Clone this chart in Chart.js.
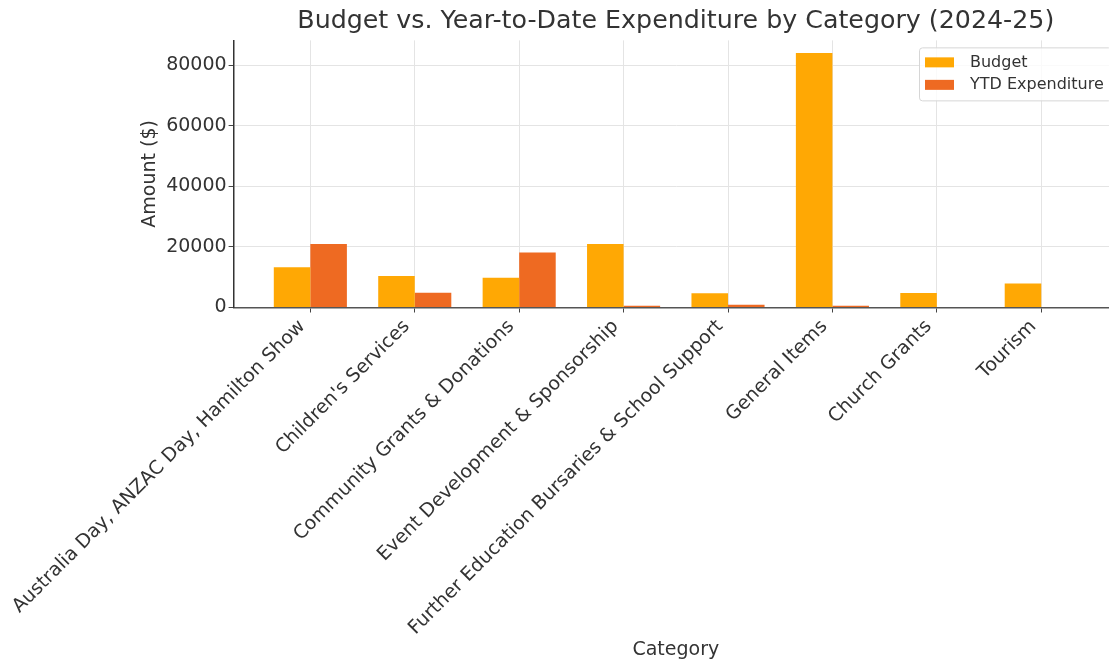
<!DOCTYPE html>
<html>
<head>
<meta charset="utf-8">
<script src="https://cdn.jsdelivr.net/npm/chart.js@4.4.1/dist/chart.umd.min.js"></script>
<style>
  html, body { margin: 0; padding: 0; background: #ffffff; overflow: hidden; }
  #wrap { width: 1109px; height: 666px; overflow: hidden; }
  canvas { display: block; }
</style>
</head>
<body>
<div id="wrap"><canvas id="c" width="1118" height="666"></canvas></div>
<script>
const categories = [
  "Australia Day, ANZAC Day, Hamilton Show",
  "Children's Services",
  "Community Grants & Donations",
  "Event Development & Sponsorship",
  "Further Education Bursaries & School Support",
  "General Items",
  "Church Grants",
  "Tourism"
];
const budget = [13300, 10400, 9800, 21000, 4700, 84000, 4800, 7900];
const ytdExpenditure = [21000, 4900, 18200, 600, 900, 600, 0, 0];
const yTicks = [0, 20000, 40000, 60000, 80000];
const seriesNames = ["Budget", "YTD Expenditure"];
const seriesColors = ["#FFA804", "#EE6A22"];

const FONT = "'DejaVu Sans', 'Liberation Sans', sans-serif";
const TEXT = "#333333";
const GRID = "#e4e4e4";

const yMax = Math.max(...budget, ...ytdExpenditure) * 1.05;
const xMin = -0.35 - 0.05 * (categories.length - 1 + 0.7);
const xMax = categories.length - 1 + 0.35 + 0.05 * (categories.length - 1 + 0.7);

const legendBox = {
  id: 'legendBox',
  afterDraw(chart) {
    const ctx = chart.ctx, a = chart.chartArea;
    const w = 192, h = 53;
    const x = a.right - 7 - w, y = a.top + 7;
    ctx.save();
    ctx.beginPath();
    if (ctx.roundRect) ctx.roundRect(x + 0.5, y + 0.5, w, h, 3); else ctx.rect(x + 0.5, y + 0.5, w, h);
    ctx.fillStyle = 'rgba(255,255,255,0.8)';
    ctx.fill();
    ctx.strokeStyle = '#d6d6d6';
    ctx.lineWidth = 1;
    ctx.stroke();
    ctx.font = "16px " + FONT;
    ctx.textBaseline = 'middle';
    ctx.textAlign = 'left';
    chart.data.datasets.forEach((ds, i) => {
      const cy = y + 15 + i * 22.5;
      ctx.fillStyle = ds.backgroundColor;
      ctx.fillRect(x + 6, cy - 5, 29, 10);
      ctx.fillStyle = TEXT;
      ctx.fillText(ds.label, x + 51, cy);
    });
    ctx.restore();
  }
};

new Chart(document.getElementById('c'), {
  type: 'bar',
  data: {
    datasets: [
      { label: seriesNames[0], data: budget.map((v, i) => ({ x: i, y: v })), backgroundColor: seriesColors[0],
        categoryPercentage: 0.7, barPercentage: 1.0, borderWidth: 0 },
      { label: seriesNames[1], data: ytdExpenditure.map((v, i) => ({ x: i, y: v })), backgroundColor: seriesColors[1],
        categoryPercentage: 0.7, barPercentage: 1.0, borderWidth: 0 }
    ]
  },
  options: {
    responsive: false,
    animation: false,
    devicePixelRatio: 1,
    layout: { padding: 0 },
    plugins: {
      legend: { display: false },
      tooltip: { enabled: false },
      title: {
        display: true,
        fullSize: false,
        text: "Budget vs. Year-to-Date Expenditure by Category (2024-25)",
        color: TEXT,
        font: { family: FONT, size: 25.3, weight: 'normal' },
        padding: { top: 6.5, bottom: 3.5 }
      }
    },
    scales: {
      x: {
        type: 'linear',
        min: xMin,
        max: xMax,
        offset: false,
        afterBuildTicks: (s) => { s.ticks = categories.map((c, i) => ({ value: i })); },
        afterFit: (s) => { s.height = 358.5; },
        ticks: {
          callback: (v) => categories[v],
          autoSkip: false,
          maxRotation: 45,
          minRotation: 45,
          color: TEXT,
          padding: 3,
          labelOffset: -8,
          font: { family: FONT, size: 19 }
        },
        grid: { color: GRID, lineWidth: 1, drawTicks: true, tickLength: 5, tickColor: '#444', offset: false },
        border: { display: true, color: '#555', width: 1.5 },
        title: {
          display: true, text: "Category", color: TEXT,
          font: { family: FONT, size: 19 },
          padding: { top: 4, bottom: 4.5 }
        }
      },
      y: {
        min: 0,
        max: yMax,
        afterBuildTicks: (s) => { s.ticks = yTicks.map(v => ({ value: v })); },
        afterFit: (s) => { s.width = 233.6; },
        ticks: {
          callback: (v) => String(v),
          color: TEXT,
          padding: 2,
          font: { family: FONT, size: 19 }
        },
        grid: { color: GRID, lineWidth: 1, drawTicks: true, tickLength: 5, tickColor: '#444' },
        border: { display: true, color: '#333', width: 1.5 },
        title: {
          display: true, text: "Amount ($)", color: TEXT,
          font: { family: FONT, size: 19 },
          padding: { top: 138.5, bottom: 0 }
        }
      }
    }
  },
  plugins: [legendBox]
});
</script>
</body>
</html>
